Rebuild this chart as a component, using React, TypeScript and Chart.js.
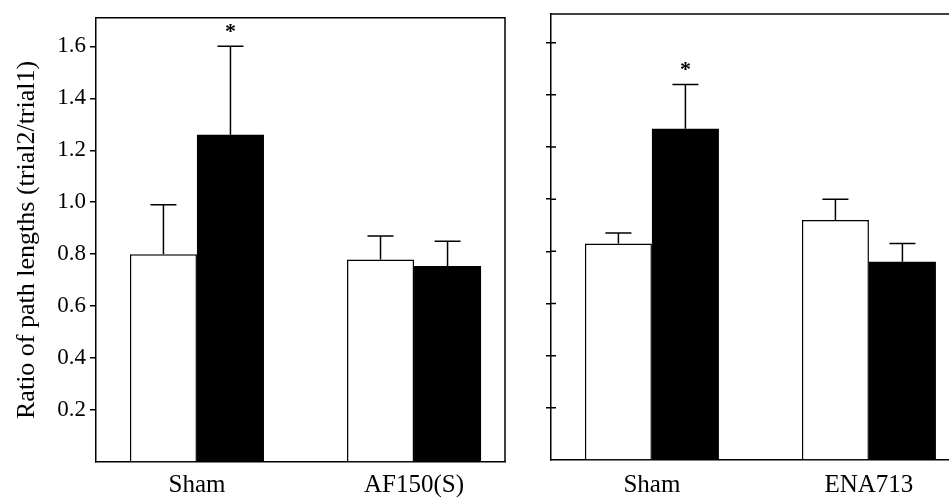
import React, { useEffect, useRef } from 'react';
import { Chart, registerables } from 'chart.js';

Chart.register(...registerables);

// ---- Data ----
const leftCategories = ['Sham', 'AF150(S)'];
const leftWhite = [0.8, 0.78];
const leftWhiteSem = [0.19, 0.09];
const leftBlack = [1.26, 0.755];
const leftBlackSem = [0.34, 0.095];
const leftSig = [true, false];

const rightCategories = ['Sham', 'ENA713'];
const rightWhite = [0.83, 0.92];
const rightWhiteSem = [0.04, 0.08];
const rightBlack = [1.27, 0.76];
const rightBlackSem = [0.17, 0.07];
const rightSig = [true, false];

const yMin = 0;
const yMax = 1.71;
const yStep = 0.2;
const yAxisTitle = 'Ratio of path lengths (trial2/trial1)';

const FONT = "'Liberation Serif', 'Times New Roman', serif";

const decorPlugin = {
  id: 'decor',
  afterDatasetsDraw(chart: any, _args: any, opts: any) {
    const { ctx, chartArea: a } = chart;
    const y = chart.scales.y;
    ctx.save();
    ctx.strokeStyle = '#000';
    ctx.fillStyle = '#000';
    ctx.lineWidth = 1.5;
    // frame
    ctx.beginPath();
    ctx.moveTo(a.left, a.top);
    ctx.lineTo(a.right, a.top);
    if (opts.rightBorder) ctx.lineTo(a.right, a.bottom);
    ctx.stroke();
    // error bars + significance marks
    ctx.font = `bold 22px ${FONT}`;
    ctx.textAlign = 'center';
    ctx.textBaseline = 'middle';
    chart.data.datasets.forEach((ds: any, di: number) => {
      const meta = chart.getDatasetMeta(di);
      meta.data.forEach((el: any, i: number) => {
        const v = ds.data[i].y;
        const e = ds.sem[i];
        const yt = y.getPixelForValue(v + e);
        ctx.beginPath();
        ctx.moveTo(el.x, el.y);
        ctx.lineTo(el.x, yt);
        ctx.moveTo(el.x - 13, yt);
        ctx.lineTo(el.x + 13, yt);
        ctx.stroke();
        if (ds.sig && ds.sig[i]) {
          ctx.fillText('*', el.x, yt - 14);
        }
      });
    });
    // inner tick marks
    if (opts.innerTicks) {
      ctx.beginPath();
      y.ticks.forEach((t: any) => {
        if (t.value === 0) return;
        const py = y.getPixelForValue(t.value);
        ctx.moveTo(a.left, py);
        ctx.lineTo(a.left + 5, py);
      });
      ctx.stroke();
    }
    ctx.restore();
  },
};

type PanelProps = {
  categories: string[];
  white: number[];
  whiteSem: number[];
  black: number[];
  blackSem: number[];
  sig: boolean[];
  left: number;
  width: number;
  padTop: number;
  padRight: number;
  yAxisWidth: number;
  xAxisHeight: number;
  xLabelPad: number;
  xMin: number;
  xMax: number;
  showYLabels: boolean;
  rightBorder: boolean;
  innerTicks: boolean;
  tickLength: number;
};

function Panel(p: PanelProps) {
  const ref = useRef<HTMLCanvasElement | null>(null);
  useEffect(() => {
    if (!ref.current) return;
    const chart = new Chart(ref.current, {
      type: 'bar',
      data: {
        datasets: [
          {
            label: 'trial white',
            data: p.white.map((v, i) => ({ x: i, y: v })),
            backgroundColor: '#ffffff',
            borderColor: '#000000',
            borderWidth: 1.5,
            borderSkipped: 'bottom',
            sem: p.whiteSem,
          } as any,
          {
            label: 'trial black',
            data: p.black.map((v, i) => ({ x: i, y: v })),
            backgroundColor: '#000000',
            borderColor: '#000000',
            borderWidth: 0,
            sem: p.blackSem,
            sig: p.sig,
          } as any,
        ],
      },
      options: {
        responsive: false,
        animation: false,
        categoryPercentage: 0.6175,
        barPercentage: 1,
        layout: { padding: { top: p.padTop, right: p.padRight, left: 0, bottom: 0 } },
        plugins: {
          legend: { display: false },
          tooltip: { enabled: false },
          decor: { rightBorder: p.rightBorder, innerTicks: p.innerTicks },
        } as any,
        scales: {
          x: {
            type: 'linear',
            min: p.xMin,
            max: p.xMax,
            offset: false,
            grid: { display: false },
            border: { display: true, color: '#000', width: 1.5 },
            afterBuildTicks: (s: any) => {
              s.ticks = p.categories.map((_, i) => ({ value: i }));
            },
            afterFit: (s: any) => {
              s.height = p.xAxisHeight;
            },
            ticks: {
              autoSkip: false,
              maxRotation: 0,
              padding: p.xLabelPad,
              color: '#000',
              font: { family: FONT, size: 25 },
              callback: (_v: any, i: number) => p.categories[i],
            },
          },
          y: {
            type: 'linear',
            min: yMin,
            max: yMax,
            grid: {
              display: true,
              drawOnChartArea: false,
              drawTicks: true,
              tickLength: p.tickLength,
              color: (c: any) => (c.tick && Math.abs(c.tick.value) < 1e-9 ? 'rgba(0,0,0,0)' : '#000'),
              lineWidth: 1.5,
            },
            border: { display: true, color: '#000', width: 1.5 },
            afterFit: (s: any) => {
              s.width = p.yAxisWidth;
            },
            title: {
              display: p.showYLabels,
              text: yAxisTitle,
              color: '#000',
              font: { family: FONT, size: 26 },
              padding: { top: 12, bottom: 0 },
            },
            ticks: {
              display: p.showYLabels,
              stepSize: yStep,
              includeBounds: false,
              padding: 4,
              color: '#000',
              font: { family: FONT, size: 23 },
              callback: (v: any) => (Math.abs(v) < 1e-9 ? '' : Number(v).toFixed(1)),
            },
          },
        },
      },
      plugins: [decorPlugin as any],
    });
    return () => chart.destroy();
  }, []);
  return (
    <div style={{ position: 'absolute', left: p.left, top: 0, width: p.width, height: 498 }}>
      <canvas ref={ref} width={p.width} height={498} style={{ width: p.width, height: 498, display: 'block' }} />
    </div>
  );
}

export default function App() {
  return (
    <div
      style={{
        position: 'fixed',
        left: 0,
        top: 0,
        width: 949,
        height: 498,
        background: '#fff',
        overflow: 'hidden',
      }}
    >
      <Panel
        categories={leftCategories}
        white={leftWhite}
        whiteSem={leftWhiteSem}
        black={leftBlack}
        blackSem={leftBlackSem}
        sig={leftSig}
        left={0}
        width={525}
        padTop={16}
        padRight={20}
        yAxisWidth={96}
        xAxisHeight={36}
        xLabelPad={0}
        xMin={-0.465}
        xMax={1.419}
        showYLabels={true}
        rightBorder={true}
        innerTicks={false}
        tickLength={6}
      />
      <Panel
        categories={rightCategories}
        white={rightWhite}
        whiteSem={rightWhiteSem}
        black={rightBlack}
        blackSem={rightBlackSem}
        sig={rightSig}
        left={530}
        width={419}
        padTop={14}
        padRight={0}
        yAxisWidth={21}
        xAxisHeight={38}
        xLabelPad={2}
        xMin={-0.465}
        xMax={1.369}
        showYLabels={false}
        rightBorder={false}
        innerTicks={true}
        tickLength={5}
      />
    </div>
  );
}
